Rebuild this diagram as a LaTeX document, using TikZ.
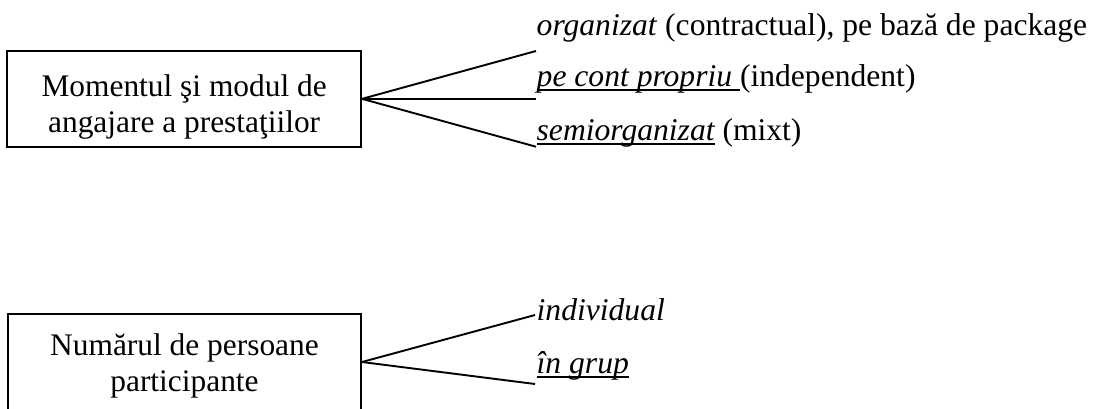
\documentclass[tikz,border=0pt]{standalone}
\usepackage{fontspec}
\setmainfont{Liberation Serif}
\newcommand\undl[1]{\setbox0=\hbox{#1}\rlap{\rule[-4.6pt]{\wd0}{1.6pt}}\box0\relax}
\tikzset{
  boxnode/.style={draw, line width=2pt, inner sep=0pt},
  boxtext/.style={anchor=north, align=center, inner sep=0pt, font=\fontsize{31.4}{36}\selectfont},
  lbl/.style={anchor=base west, inner sep=0pt, font=\fontsize{31.6}{36}\selectfont},
  conn/.style={line width=1.9pt}
}
\begin{document}
\begin{tikzpicture}[x=1pt,y=-1pt]
\useasboundingbox (0,0) rectangle (1098,408);
% top group
\node[boxnode, minimum width=353.7pt, minimum height=95.7pt] (m1) at (184.15,98.85) {};
\node[boxtext] (m1t) at (184.15,74.6) {Momentul şi modul de\\angajare a prestaţiilor};
\coordinate (c1) at (536,51);
\coordinate (c2) at (536,98.85);
\coordinate (c3) at (536,146.7);
\draw[conn] (m1.east) -- (c1);
\draw[conn] (m1.east) -- (c2);
\draw[conn] (m1.east) -- (c3);
\node[lbl] (l1) at (536.5,35) {\textit{organizat} (contractual), pe bază de package};
\node[lbl] (l2) at (536.5,86) {\undl{\itshape pe cont propriu\ }(independent)};
\node[lbl] (l3) at (536.5,140) {\undl{\itshape semiorganizat} (mixt)};
% bottom group
\node[boxnode, minimum width=353pt, minimum height=96pt] (m2) at (184.5,362) {};
\node[boxtext] (m2t) at (184.5,333.6) {Numărul de persoane\\participante};
\coordinate (d1) at (535,315);
\coordinate (d2) at (535,384);
\draw[conn] (m2.east) -- (d1);
\draw[conn] (m2.east) -- (d2);
\node[lbl] (k1) at (536.5,320) {\textit{individual}};
\node[lbl] (k2) at (536.5,373) {\undl{\itshape în grup}};
\end{tikzpicture}
\end{document}
